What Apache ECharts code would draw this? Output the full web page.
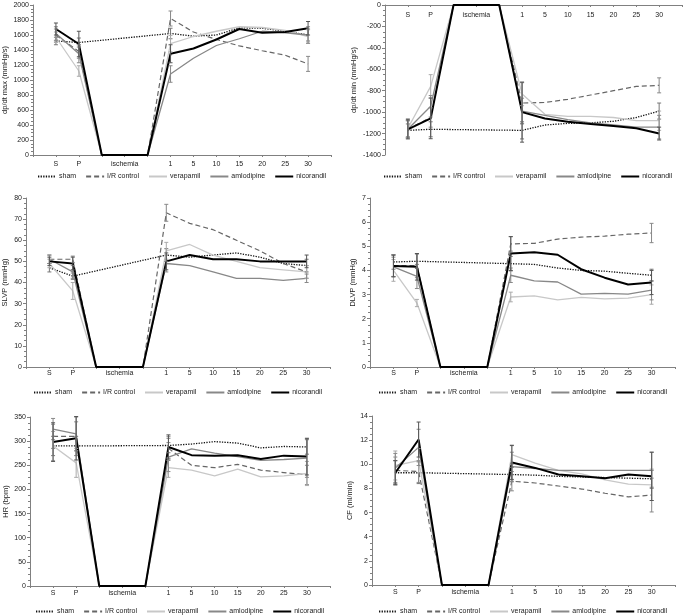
<!DOCTYPE html>
<html><head><meta charset="utf-8">
<script src="https://cdn.jsdelivr.net/npm/echarts@6/dist/echarts.min.js"></script>
<style>html,body{margin:0;padding:0;background:#fff}#c{width:685px;height:615px}</style>
</head><body><div id="c"></div>
<script>
// ---- categories / tick labels ----
const categories = ['', 'S', 'P', '', 'ischemia', '', '1', '5', '10', '15', '20', '25', '30', ''];
const groups = ['sham', 'I/R control', 'verapamil', 'amlodipine', 'nicorandil'];
// values at S, P, 1, 5, 10, 15, 20, 25, 30 min
// dp/dt max (mmHg/s)
const dpMax_sham = [1520, 1500, 1620, 1585, 1600, 1695, 1690, 1650, 1600];
const dpMax_ir   = [1600, 1380, 1820, 1640, 1540, 1455, 1390, 1330, 1215];
const dpMax_ver  = [1570, 1120, 1485, 1580, 1650, 1710, 1700, 1660, 1580];
const dpMax_aml  = [1620, 1350, 1080, 1290, 1460, 1550, 1650, 1630, 1600];
const dpMax_nic  = [1680, 1480, 1350, 1420, 1540, 1680, 1630, 1640, 1690];
// dp/dt min (mmHg/s)
const dpMin_sham = [-1170, -1160, -1170, -1120, -1105, -1100, -1085, -1050, -990];
const dpMin_ir   = [-1160, -1050, -915, -910, -880, -840, -800, -760, -750];
const dpMin_ver  = [-1150, -760, -830, -1020, -1040, -1040, -1050, -1080, -1080];
const dpMin_aml  = [-1160, -945, -990, -1030, -1070, -1100, -1120, -1140, -1140];
const dpMin_nic  = [-1160, -1058, -1000, -1060, -1090, -1110, -1130, -1150, -1200];
// SLVP (mmHg)
const slvp_sham = [47, 43, 53, 52, 53, 54, 52, 49, 48];
const slvp_ir   = [51, 51, 73, 68, 65, 60, 55, 49, 45];
const slvp_ver  = [49, 36, 55, 58, 53, 50, 47, 46, 45];
const slvp_aml  = [51, 45, 49, 48, 45, 42, 42, 41, 42];
const slvp_nic  = [50, 49, 50, 53, 51, 51, 50, 50, 50];
// DLVP (mmHg)
const dlvp_sham = [4.35, 4.38, 4.28, 4.25, 4.1, 4.0, 3.97, 3.88, 3.8];
const dlvp_ir   = [4.2, 4.2, 5.1, 5.12, 5.3, 5.38, 5.42, 5.5, 5.55];
const dlvp_ver  = [4.0, 2.65, 2.9, 2.95, 2.78, 2.88, 2.82, 2.85, 3.0];
const dlvp_aml  = [4.15, 3.75, 3.8, 3.57, 3.52, 3.02, 3.05, 3.02, 3.18];
const dlvp_nic  = [4.18, 4.15, 4.7, 4.75, 4.65, 4.05, 3.7, 3.42, 3.5];
// HR (bpm)
const hr_sham = [290, 290, 291, 294, 299, 296, 286, 289, 288];
const hr_ir   = [310, 310, 285, 250, 245, 252, 240, 235, 230];
const hr_ver  = [290, 255, 245, 240, 228, 242, 226, 228, 233];
const hr_aml  = [325, 315, 267, 284, 275, 268, 260, 262, 265];
const hr_nic  = [298, 306, 288, 271, 270, 271, 263, 270, 268];
// CF (ml/min)
const cf_sham = [9.3, 9.3, 9.15, 9.1, 9.0, 8.95, 8.9, 8.85, 8.8];
const cf_ir   = [9.5, 9.4, 8.6, 8.45, 8.2, 7.95, 7.6, 7.3, 7.45];
const cf_ver  = [9.9, 10.3, 10.8, 10.1, 9.5, 9.2, 8.7, 8.35, 8.3];
const cf_aml  = [9.7, 11.4, 9.8, 9.65, 9.5, 9.5, 9.5, 9.5, 9.5];
const cf_nic  = [9.3, 12.05, 10.15, 9.7, 9.15, 9.0, 8.85, 9.15, 9.0];
// error bars (± SEM) at S, P, 1, 30 min
const dpMax_err_sham = [50, 60, 70, 80];
const dpMax_err_ir   = [80, 90, 100, 100];
const dpMax_err_ver  = [70, 70, 110, 90];
const dpMax_err_aml  = [90, 120, 110, 110];
const dpMax_err_nic  = [80, 170, 120, 90];
const dpMin_err_sham = [60, 70, 80, 75];
const dpMin_err_ir   = [80, 90, 190, 70];
const dpMin_err_ver  = [90, 110, 110, 90];
const dpMin_err_aml  = [80, 100, 120, 110];
const dpMin_err_nic  = [90, 190, 280, 60];
const slvp_err_sham = [2, 1.5, 3, 3];
const slvp_err_ir   = [2, 1.5, 4, 3];
const slvp_err_ver  = [2, 4, 4, 3];
const slvp_err_aml  = [2, 3, 4, 2];
const slvp_err_nic  = [2, 3, 4, 3];
const dlvp_err_sham = [0.3, 0.3, 0.3, 0.25];
const dlvp_err_ir   = [0.45, 0.5, 0.3, 0.4];
const dlvp_err_ver  = [0.45, 0.15, 0.2, 0.4];
const dlvp_err_aml  = [0.4, 0.5, 0.3, 0.4];
const dlvp_err_nic  = [0.45, 0.55, 0.7, 0.5];
const hr_err_sham = [20, 20, 15, 15];
const hr_err_ir   = [25, 30, 25, 20];
const hr_err_ver  = [30, 30, 20, 25];
const hr_err_aml  = [22, 35, 30, 40];
const hr_err_nic  = [40, 45, 25, 38];
const cf_err_sham = [1.0, 0.9, 0.6, 0.7];
const cf_err_ir   = [1.1, 0.9, 0.8, 1.4];
const cf_err_ver  = [1.2, 1.0, 0.8, 1.3];
const cf_err_aml  = [1.2, 1.5, 1.2, 1.5];
const cf_err_nic  = [1.0, 1.45, 1.4, 2.0];

const styles = {
  'sham':        {color: '#111', width: 1.3, type: [1.3, 1.3]},
  'I/R control': {color: '#666', width: 1.2, type: [5, 3]},
  'verapamil':   {color: '#c8c8c8', width: 1.3, type: 'solid'},
  'amlodipine':  {color: '#888', width: 1.3, type: 'solid'},
  'nicorandil':  {color: '#000', width: 2, type: 'solid'}
};
const errColors = {'sham': '#777', 'I/R control': '#888', 'verapamil': '#aaa', 'amlodipine': '#888', 'nicorandil': '#555'};

const panels = [
  {name: 'dp/dt max (mmHg/s)', min: 0, max: 2000, interval: 200, vals: [dpMax_sham, dpMax_ir, dpMax_ver, dpMax_aml, dpMax_nic],
   errs: [dpMax_err_sham, dpMax_err_ir, dpMax_err_ver, dpMax_err_aml, dpMax_err_nic],
   grid: {left: 33, top: 5, width: 298, height: 150}, nameGap: 24, legend: {left: 37, top: 173}, top: false, margin: 6},
  {name: 'dp/dt min (mmHg/s)', min: -1400, max: 0, interval: 200, vals: [dpMin_sham, dpMin_ir, dpMin_ver, dpMin_aml, dpMin_nic],
   errs: [dpMin_err_sham, dpMin_err_ir, dpMin_err_ver, dpMin_err_aml, dpMin_err_nic],
   grid: {left: 385, top: 5, width: 297, height: 150}, nameGap: 27, legend: {left: 383, top: 173}, top: true, margin: 7},
  {name: 'SLVP (mmHg)', min: 0, max: 80, interval: 10, vals: [slvp_sham, slvp_ir, slvp_ver, slvp_aml, slvp_nic],
   errs: [slvp_err_sham, slvp_err_ir, slvp_err_ver, slvp_err_aml, slvp_err_nic],
   grid: {left: 26, top: 198, width: 304, height: 169}, nameGap: 17, legend: {left: 33, top: 389}, top: false, margin: 3},
  {name: 'DLVP (mmHg)', min: 0, max: 7, interval: 1, vals: [dlvp_sham, dlvp_ir, dlvp_ver, dlvp_aml, dlvp_nic],
   errs: [dlvp_err_sham, dlvp_err_ir, dlvp_err_ver, dlvp_err_aml, dlvp_err_nic],
   grid: {left: 370, top: 198, width: 305, height: 169}, nameGap: 13, legend: {left: 378, top: 389}, top: false, margin: 3},
  {name: 'HR (bpm)', min: 0, max: 350, interval: 50, vals: [hr_sham, hr_ir, hr_ver, hr_aml, hr_nic],
   errs: [hr_err_sham, hr_err_ir, hr_err_ver, hr_err_aml, hr_err_nic],
   grid: {left: 30, top: 417, width: 300, height: 169}, nameGap: 19, legend: {left: 35, top: 608}, top: false, margin: 4},
  {name: 'CF (ml/min)', min: 0, max: 14, interval: 2, vals: [cf_sham, cf_ir, cf_ver, cf_aml, cf_nic],
   errs: [cf_err_sham, cf_err_ir, cf_err_ver, cf_err_aml, cf_err_nic],
   grid: {left: 372, top: 416, width: 303, height: 169}, nameGap: 18, legend: {left: 378, top: 608}, top: false, margin: 4}
];

const FONT = 'Liberation Sans, Arial, sans-serif';
function expand(v, sham) {
  const z = sham ? null : 0;
  return [null, v[0], v[1], z, z, z, v[2], v[3], v[4], v[5], v[6], v[7], v[8], null];
}
const errIdx = [1, 2, 6, 12];
const errVal = [0, 1, 2, 8];

const option = {
  animation: false,
  backgroundColor: '#fff',
  textStyle: {fontFamily: FONT},
  grid: [], xAxis: [], yAxis: [], legend: [], series: []
};

panels.forEach((p, pi) => {
  option.grid.push(Object.assign({containLabel: false}, p.grid));
  option.xAxis.push({
    type: 'category', gridIndex: pi, data: categories, boundaryGap: false,
    position: p.top ? 'top' : 'bottom',
    axisLine: {onZero: false, lineStyle: {color: '#808080', width: 1}},
    axisTick: {show: true, length: 2, interval: 0, inside: p.top, lineStyle: {color: '#808080'}},
    axisLabel: {interval: 0, fontSize: 7, color: '#222', margin: p.margin, inside: p.top, fontFamily: FONT},
    splitLine: {show: false}
  });
  option.yAxis.push({
    type: 'value', gridIndex: pi, min: p.min, max: p.max, interval: p.interval,
    name: p.name, nameLocation: 'middle', nameGap: p.nameGap, nameRotate: 90,
    nameTextStyle: {fontSize: 7.5, color: '#222', fontFamily: FONT},
    axisLine: {show: true, lineStyle: {color: '#808080', width: 1}},
    axisTick: {show: true, length: 3, lineStyle: {color: '#808080'}},
    minorTick: {show: true, splitNumber: 4, length: 2, lineStyle: {color: '#808080'}},
    axisLabel: {fontSize: 7, color: '#222', margin: 4, fontFamily: FONT, formatter: v => String(v)},
    splitLine: {show: false}
  });
  option.legend.push({
    data: groups, left: p.legend.left, top: p.legend.top, orient: 'horizontal',
    itemWidth: 18, itemHeight: 6, itemGap: 9, padding: 0, selectedMode: false,
    itemStyle: {opacity: 0},
    textStyle: {fontSize: 7, color: '#222', fontFamily: FONT, padding: [0, 0, 0, -2]}
  });
  groups.forEach((g, gi) => {
    const st = styles[g];
    option.series.push({
      name: g, type: 'line', xAxisIndex: pi, yAxisIndex: pi,
      data: expand(p.vals[gi], gi === 0), connectNulls: gi === 0,
      symbol: 'none', showSymbol: false, z: 3 + gi,
      lineStyle: {color: st.color, width: st.width, type: st.type},
      itemStyle: {color: st.color}
    });
  });
  groups.forEach((g, gi) => {
    const v = p.vals[gi], e = p.errs[gi];
    const data = errIdx.map((ix, k) => [ix, v[errVal[k]] - e[k], v[errVal[k]] + e[k]]);
    const col = errColors[g];
    option.series.push({
      type: 'custom', xAxisIndex: pi, yAxisIndex: pi, z: 10, silent: true,
      data: data, encode: {x: 0, y: [1, 2]},
      renderItem: function (params, api) {
        const lo = api.coord([api.value(0), api.value(1)]);
        const hi = api.coord([api.value(0), api.value(2)]);
        const w = 2;
        const s = {stroke: col, lineWidth: 1};
        return {type: 'group', children: [
          {type: 'line', shape: {x1: lo[0], y1: lo[1], x2: hi[0], y2: hi[1]}, style: s},
          {type: 'line', shape: {x1: lo[0] - w, y1: lo[1], x2: lo[0] + w, y2: lo[1]}, style: s},
          {type: 'line', shape: {x1: hi[0] - w, y1: hi[1], x2: hi[0] + w, y2: hi[1]}, style: s}
        ]};
      }
    });
  });
});

const chart = echarts.init(document.getElementById('c'), null, {renderer: 'canvas'});
chart.setOption(option);
</script></body></html>
